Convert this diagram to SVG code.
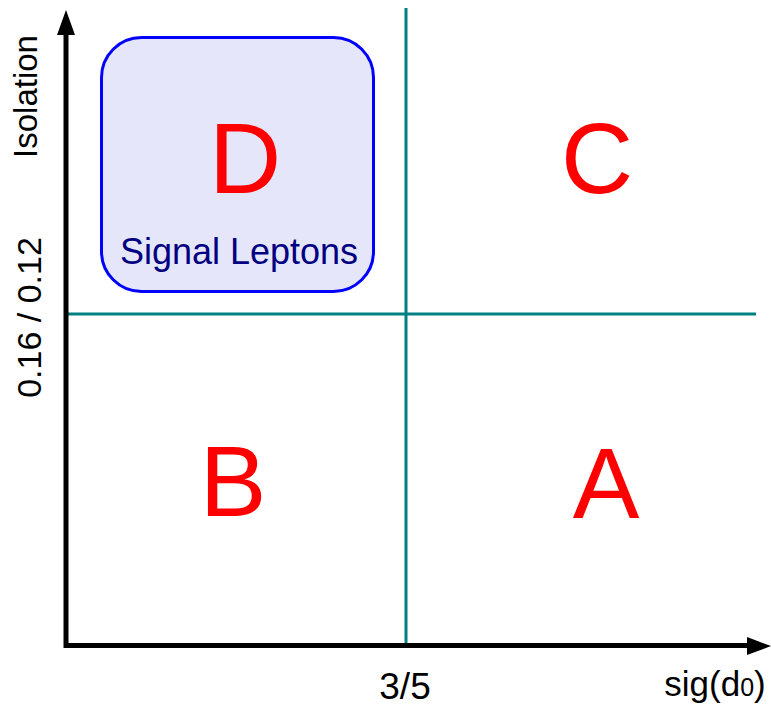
<svg xmlns="http://www.w3.org/2000/svg" width="771" height="706" viewBox="0 0 771 706">
<style>
.lbl{font-family:"Liberation Sans",Arial,sans-serif;fill:#000}
.big{font-family:"Liberation Sans",Arial,sans-serif;font-size:100px;fill:#ff0000;text-anchor:middle}
.cut{stroke:#008080;stroke-width:3;fill:none}
.axis{stroke:#000;stroke-width:5;fill:none}
</style>
<rect width="771" height="706" fill="#fff"/>
<g id="connectors">
<line class="cut" x1="406" y1="8" x2="406" y2="646"/>
<line class="cut" x1="66" y1="314" x2="756" y2="314"/>
<polyline class="axis" points="66,33 66,645.5 750,645.5"/>
<polygon points="66,10 57,35 75,35" fill="#000"/>
<polygon points="747,637 771,646 747,655" fill="#000"/>
</g>
<g id="signal">
<rect x="101.5" y="37.5" width="272" height="254" rx="40" ry="40" fill="#e6e6fa" stroke="#0000ff" stroke-width="3"/>
<text x="239" y="264" font-family="Liberation Sans,Arial,sans-serif" font-size="36" fill="#000080" text-anchor="middle">Signal Leptons</text>
</g>
<g id="D"><text class="big" x="245" y="193">D</text></g>
<g id="C"><text class="big" x="597" y="193">C</text></g>
<g id="B"><text class="big" x="233" y="516">B</text></g>
<g id="A"><text class="big" x="606" y="518">A</text></g>
<g id="labels">
<text class="lbl" font-size="33" text-anchor="middle" transform="translate(37,96.5) rotate(-90)">Isolation</text>
<text class="lbl" font-size="34" text-anchor="middle" transform="translate(41,317.5) rotate(-90)">0.16 / 0.12</text>
<text class="lbl" font-size="37" x="405" y="699" text-anchor="middle">3/5</text>
<text class="lbl" font-size="35" x="715" y="696" text-anchor="middle">sig(d<tspan font-size="25">0</tspan>)</text>
</g>
</svg>
